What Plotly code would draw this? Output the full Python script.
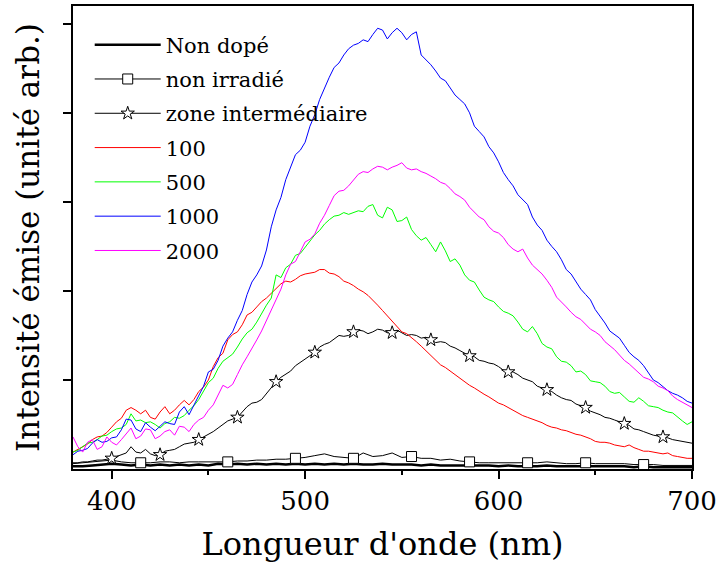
import plotly.graph_objects as go

# Emission spectra: main wavelength grid (nm) and the half-step readings in between
WAVELENGTH_NM = list(range(380, 701, 5))
MID_WAVELENGTH_NM = [w + 2.5 for w in WAVELENGTH_NM[:-1]]

# Intensities (arbitrary units) on the 5 nm grid
NON_DOPE = [0.03, 0.03, 0.04, 0.05, 0.06,
            0.05, 0.04, 0.05, 0.04, 0.05,
            0.04, 0.05, 0.04, 0.05, 0.04,
            0.06, 0.05, 0.06, 0.05, 0.06,
            0.05, 0.06, 0.05, 0.06, 0.05,
            0.06, 0.05, 0.06, 0.05, 0.06,
            0.05, 0.05, 0.06, 0.05, 0.05,
            0.05, 0.04, 0.05, 0.04, 0.04,
            0.04, 0.04, 0.04, 0.04, 0.03,
            0.04, 0.03, 0.03, 0.03, 0.04,
            0.03, 0.03, 0.03, 0.03, 0.03,
            0.03, 0.03, 0.03, 0.02, 0.03,
            0.02, 0.02, 0.02, 0.02, 0.02]

NON_IRRADIE = [0.06, 0.07, 0.08, 0.09, 0.10,
               0.08, 0.07, 0.07, 0.07, 0.08,
               0.08, 0.07, 0.08, 0.08, 0.08,
               0.08, 0.08, 0.09, 0.09, 0.10,
               0.10, 0.11, 0.11, 0.12, 0.13,
               0.15, 0.17, 0.14, 0.13, 0.12,
               0.18, 0.14, 0.15, 0.18, 0.13,
               0.14, 0.12, 0.12, 0.10, 0.11,
               0.09, 0.08, 0.07, 0.07, 0.07,
               0.07, 0.07, 0.07, 0.07, 0.08,
               0.07, 0.06, 0.06, 0.07, 0.06,
               0.06, 0.06, 0.06, 0.05, 0.05,
               0.05, 0.04, 0.04, 0.04, 0.04]

ZONE_INTERMEDIAIRE = [0.07, 0.08, 0.09, 0.10, 0.12,
                      0.16, 0.25, 0.18, 0.17, 0.16,
                      0.21, 0.25, 0.29, 0.33, 0.39,
                      0.46, 0.54, 0.58, 0.70, 0.75,
                      0.85, 0.98, 1.07, 1.16, 1.24,
                      1.31, 1.40, 1.46, 1.49, 1.54,
                      1.55, 1.54, 1.56, 1.53, 1.53,
                      1.51, 1.47, 1.45, 1.43, 1.38,
                      1.33, 1.27, 1.22, 1.19, 1.15,
                      1.09, 1.06, 1.00, 0.93, 0.89,
                      0.83, 0.78, 0.73, 0.69, 0.63,
                      0.58, 0.55, 0.51, 0.45, 0.42,
                      0.38, 0.36, 0.33, 0.31, 0.29]

DOSE_100 = [0.19, 0.25, 0.33, 0.37, 0.47,
            0.57, 0.69, 0.62, 0.58, 0.64,
            0.62, 0.72, 0.72, 0.87, 1.00,
            1.25, 1.45, 1.54, 1.73, 1.82,
            1.92, 2.03, 2.11, 2.13, 2.19,
            2.21, 2.24, 2.19, 2.11, 2.06,
            1.99, 1.90, 1.78, 1.65, 1.54,
            1.48, 1.38, 1.27, 1.17, 1.10,
            1.01, 0.94, 0.87, 0.81, 0.74,
            0.69, 0.63, 0.58, 0.54, 0.49,
            0.46, 0.43, 0.39, 0.36, 0.31,
            0.30, 0.27, 0.25, 0.24, 0.20,
            0.19, 0.17, 0.15, 0.13, 0.12]

DOSE_500 = [0.19, 0.25, 0.30, 0.37, 0.42,
            0.46, 0.62, 0.55, 0.53, 0.46,
            0.53, 0.57, 0.66, 0.78, 0.97,
            1.13, 1.25, 1.37, 1.53, 1.65,
            1.84, 2.18, 2.26, 2.40, 2.49,
            2.63, 2.75, 2.84, 2.88, 2.88,
            2.89, 2.97, 2.82, 2.91, 2.79,
            2.69, 2.57, 2.52, 2.55, 2.33,
            2.29, 2.12, 2.01, 1.90, 1.82,
            1.75, 1.65, 1.54, 1.52, 1.37,
            1.26, 1.20, 1.09, 1.06, 0.98,
            0.93, 0.85, 0.81, 0.75, 0.76,
            0.70, 0.66, 0.63, 0.54, 0.53]

DOSE_1000 = [0.16, 0.21, 0.29, 0.30, 0.35,
             0.44, 0.55, 0.42, 0.47, 0.48,
             0.51, 0.64, 0.61, 0.83, 1.09,
             1.22, 1.47, 1.67, 1.96, 2.18,
             2.46, 2.91, 3.25, 3.53, 3.67,
             3.98, 4.28, 4.51, 4.65, 4.76,
             4.82, 4.88, 4.93, 4.90, 4.90,
             4.88, 4.65, 4.54, 4.39, 4.28,
             4.15, 4.00, 3.79, 3.62, 3.45,
             3.25, 3.08, 2.97, 2.74, 2.57,
             2.44, 2.24, 2.10, 1.96, 1.79,
             1.64, 1.51, 1.39, 1.26, 1.16,
             1.00, 0.92, 0.85, 0.80, 0.74]

DOSE_2000 = [0.36, 0.19, 0.33, 0.25, 0.30,
             0.33, 0.46, 0.37, 0.44, 0.37,
             0.44, 0.48, 0.42, 0.55, 0.66,
             0.83, 0.91, 1.06, 1.26, 1.45,
             1.67, 1.90, 2.18, 2.33, 2.55,
             2.64, 2.85, 3.07, 3.13, 3.25,
             3.34, 3.37, 3.39, 3.39, 3.44,
             3.36, 3.34, 3.29, 3.22, 3.15,
             3.06, 2.94, 2.83, 2.72, 2.65,
             2.52, 2.44, 2.37, 2.24, 2.12,
             1.93, 1.82, 1.71, 1.63, 1.54,
             1.43, 1.34, 1.22, 1.13, 1.03,
             0.98, 0.91, 0.82, 0.75, 0.69]

# Half-step readings (382.5 nm ... 697.5 nm) for the noisier spectra
ZONE_INTERMEDIAIRE_MID = [0.07, 0.08, 0.10, 0.11, 0.14,
                          0.18, 0.19, 0.22, 0.15, 0.20,
                          0.22, 0.28, 0.30, 0.36, 0.42,
                          0.50, 0.56, 0.64, 0.74, 0.78,
                          0.92, 1.03, 1.10, 1.20, 1.27,
                          1.37, 1.42, 1.50, 1.50, 1.56,
                          1.52, 1.57, 1.53, 1.56, 1.50,
                          1.50, 1.48, 1.42, 1.42, 1.36,
                          1.30, 1.26, 1.21, 1.18, 1.11,
                          1.09, 1.02, 0.98, 0.91, 0.87,
                          0.80, 0.77, 0.71, 0.65, 0.61,
                          0.57, 0.53, 0.49, 0.44, 0.40,
                          0.37, 0.35, 0.32, 0.30]

DOSE_100_MID = [0.22, 0.28, 0.36, 0.41, 0.53,
                0.66, 0.66, 0.66, 0.56, 0.70,
                0.66, 0.77, 0.78, 0.92, 1.15,
                1.30, 1.51, 1.62, 1.76, 1.88,
                1.97, 2.08, 2.10, 2.17, 2.20,
                2.24, 2.20, 2.16, 2.09, 2.02,
                1.95, 1.84, 1.72, 1.59, 1.52,
                1.43, 1.33, 1.22, 1.14, 1.05,
                0.97, 0.91, 0.84, 0.77, 0.72,
                0.66, 0.60, 0.56, 0.52, 0.47,
                0.44, 0.41, 0.38, 0.34, 0.30,
                0.29, 0.26, 0.27, 0.22, 0.20,
                0.18, 0.18, 0.14, 0.12]

DOSE_500_MID = [0.21, 0.29, 0.33, 0.38, 0.45,
                0.50, 0.54, 0.52, 0.50, 0.51,
                0.58, 0.60, 0.71, 0.88, 1.02,
                1.21, 1.29, 1.46, 1.57, 1.75,
                1.92, 2.15, 2.30, 2.42, 2.57,
                2.68, 2.80, 2.85, 2.86, 2.90,
                2.95, 2.85, 2.94, 2.78, 2.83,
                2.62, 2.60, 2.44, 2.45, 2.36,
                2.18, 2.10, 1.93, 1.88, 1.77,
                1.72, 1.57, 1.60, 1.41, 1.35,
                1.21, 1.16, 1.10, 0.99, 0.97,
                0.87, 0.86, 0.76, 0.80, 0.71,
                0.69, 0.64, 0.58, 0.50]

DOSE_1000_MID = [0.20, 0.23, 0.33, 0.31, 0.36,
                 0.56, 0.45, 0.52, 0.43, 0.53,
                 0.50, 0.70, 0.72, 0.93, 1.12,
                 1.38, 1.54, 1.78, 2.10, 2.28,
                 2.72, 3.05, 3.38, 3.58, 3.85,
                 4.15, 4.40, 4.56, 4.72, 4.78,
                 4.80, 4.95, 4.83, 4.95, 4.82,
                 4.91, 4.60, 4.47, 4.36, 4.20,
                 4.10, 3.85, 3.73, 3.55, 3.33,
                 3.18, 3.02, 2.83, 2.68, 2.50,
                 2.35, 2.19, 2.02, 1.90, 1.72,
                 1.55, 1.47, 1.31, 1.22, 1.08,
                 0.97, 0.88, 0.83, 0.76]

DOSE_2000_MID = [0.25, 0.30, 0.22, 0.36, 0.27,
                 0.40, 0.34, 0.45, 0.34, 0.42,
                 0.38, 0.47, 0.50, 0.58, 0.72,
                 0.94, 0.95, 1.17, 1.35, 1.55,
                 1.78, 2.02, 2.30, 2.45, 2.58,
                 2.76, 2.96, 3.12, 3.18, 3.31,
                 3.33, 3.40, 3.36, 3.41, 3.38,
                 3.37, 3.32, 3.26, 3.20, 3.09,
                 3.02, 2.88, 2.80, 2.67, 2.60,
                 2.47, 2.47, 2.29, 2.19, 2.04,
                 1.88, 1.76, 1.68, 1.57, 1.50,
                 1.39, 1.28, 1.18, 1.09, 1.01,
                 0.93, 0.88, 0.78, 0.72]

# Wavelengths carrying a symbol on the marked curves
SQUARE_MARKS_NM = [415, 460, 495, 525, 555, 585, 615, 645, 675]
STAR_MARKS_NM = [400, 425, 445, 465, 485, 505, 525, 545, 565, 585, 605, 625, 645, 665, 685]

X_TICKS = [400, 500, 600, 700]
X_MINOR_TICKS = [450, 550, 650]
Y_TICKS = [1, 2, 3, 4, 5]

FONT = "DejaVu Serif"


def interleave(main, mid):
    out = []
    for a, b in zip(main, mid):
        out += [a, b]
    out.append(main[-1])
    return out


def pick(values, marks):
    lookup = dict(zip(WAVELENGTH_NM, values))
    return [lookup[w] for w in marks]


FINE_NM = interleave(WAVELENGTH_NM, MID_WAVELENGTH_NM)

fig = go.Figure()

# name, x, y, colour, width, symbol, marked wavelengths, 5 nm values
series = [
    ("Non dopé", WAVELENGTH_NM, NON_DOPE, "black", 2.5, None, None, NON_DOPE),
    ("non irradié", WAVELENGTH_NM, NON_IRRADIE, "black", 1, "square",
     SQUARE_MARKS_NM, NON_IRRADIE),
    ("zone intermédiaire", FINE_NM,
     interleave(ZONE_INTERMEDIAIRE, ZONE_INTERMEDIAIRE_MID), "black", 1, "star",
     STAR_MARKS_NM, ZONE_INTERMEDIAIRE),
    ("100", FINE_NM, interleave(DOSE_100, DOSE_100_MID), "#ff0000", 1,
     None, None, DOSE_100),
    ("500", FINE_NM, interleave(DOSE_500, DOSE_500_MID), "#00ff00", 1,
     None, None, DOSE_500),
    ("1000", FINE_NM, interleave(DOSE_1000, DOSE_1000_MID), "#0000ff", 1,
     None, None, DOSE_1000),
    ("2000", FINE_NM, interleave(DOSE_2000, DOSE_2000_MID), "#ff00ff", 1,
     None, None, DOSE_2000),
]

marker_style = dict(size=10, color="white", line=dict(color="black", width=1))

# spectra (lines), plus the symbols on the two marked curves
for name, xs, ys, color, width, symbol, marks, coarse in series:
    fig.add_trace(go.Scatter(
        x=xs, y=ys, mode="lines", name=name,
        line=dict(color=color, width=width), showlegend=False,
        hoverinfo="skip",
    ))
    if symbol:
        fig.add_trace(go.Scatter(
            x=marks, y=pick(coarse, marks), mode="markers", name=name,
            marker=dict(symbol=symbol, **marker_style), showlegend=False,
            hoverinfo="skip",
        ))

# legend entries
for name, xs, ys, color, width, symbol, marks, coarse in series:
    fig.add_trace(go.Scatter(
        x=[None], y=[None], name=name, legendgroup=name,
        mode="lines+markers" if symbol else "lines",
        line=dict(color=color, width=width),
        marker=dict(symbol=symbol or "circle", **marker_style),
    ))

axis_common = dict(
    showgrid=False, zeroline=False, showline=True, linecolor="black",
    linewidth=1.5, mirror=True, ticks="outside", tickcolor="black",
    tickwidth=1.5, ticklen=8, automargin=False,
)

fig.update_layout(
    template="none",
    width=720, height=570,
    margin=dict(l=73, r=28, t=6, b=101),
    paper_bgcolor="white", plot_bgcolor="white",
    font=dict(family=FONT, color="black"),
    xaxis=dict(
        range=[380, 700], tickvals=X_TICKS, ticktext=[str(v) for v in X_TICKS],
        tickfont=dict(size=26, family=FONT),
        minor=dict(tickvals=X_MINOR_TICKS, ticks="outside", ticklen=4,
                   tickwidth=1.5, tickcolor="black"),
        title=dict(text="Longueur d'onde (nm)", font=dict(size=32, family=FONT),
                   standoff=18),
        **axis_common,
    ),
    yaxis=dict(
        range=[0, 5.2], tickvals=Y_TICKS, showticklabels=False,
        title=dict(text="Intensité émise (unité arb.)",
                   font=dict(size=31, family=FONT), standoff=14),
        **axis_common,
    ),
    legend=dict(
        x=0.027, y=0.96, xanchor="left", yanchor="top",
        bgcolor="rgba(0,0,0,0)", borderwidth=0,
        font=dict(size=21, family=FONT, color="black"),
        itemwidth=66, tracegroupgap=4,
    ),
)

fig.write_html("out.html")
